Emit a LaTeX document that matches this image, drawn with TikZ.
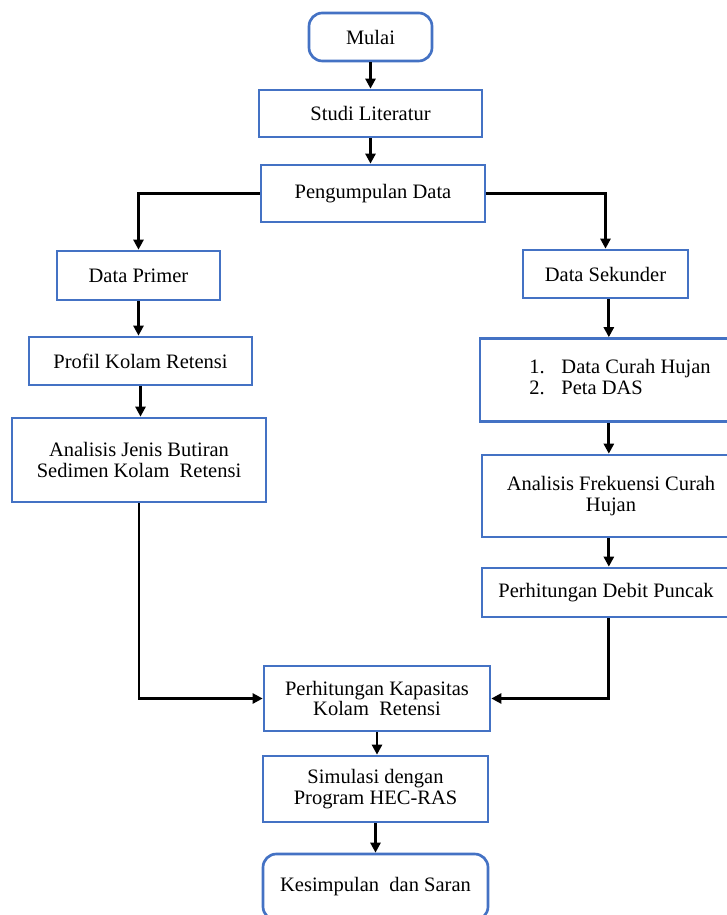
\documentclass[tikz,border=0pt]{standalone}
\usepackage{fontspec}
\setmainfont{Liberation Serif}
\usepackage{tikz}
\usetikzlibrary{arrows.meta}

\definecolor{boxblue}{RGB}{68,114,196}
\tikzset{
    box/.style={draw=boxblue, line width=1.6pt, fill=white, align=center, inner sep=2pt,
        font=\fontsize{12.3pt}{12.3pt}\selectfont},
    rbox/.style={box, rounded corners=8pt},
    flow/.style={line width=1.7pt, -{Triangle[length=6pt,width=6pt]}},
    link/.style={line width=1.7pt}
}

\begin{document}
\begin{tikzpicture}[x=0.6pt, y=-0.6pt]
    \useasboundingbox (0, 0) rectangle (727, 915);
    \begin{scope}
    \clip (0, 0) rectangle (727, 915);

    \node [rbox, minimum width=73.8pt, minimum height=28.8pt] (mulai) at (370.5, 37) {Mulai};
    \node [box, minimum width=133.8pt, minimum height=28.2pt] (studi) at (370.5, 113.5) {Studi Literatur};
    \node [box, minimum width=134.4pt, minimum height=34.2pt] (kumpul) at (373, 193.5) {Pengumpulan Data};

    \node [box, minimum width=97.8pt, minimum height=29.4pt] (primer) at (138.5, 275.5) {Data Primer};
    \node [box, minimum width=133.8pt, minimum height=28.8pt] (profil) at (140.5, 361) {Profil Kolam Retensi};
    \node [box, minimum width=152.4pt, minimum height=50.4pt] (butiran) at (139, 460)
        {Analisis Jenis Butiran\\Sedimen Kolam \ Retensi};

    \node [box, minimum width=99pt, minimum height=28.8pt] (sekunder) at (605.5, 274) {Data Sekunder};
    \node [box, minimum width=156pt, minimum height=49.8pt] (curah) at (610, 380)
        {\hspace*{12pt}\begin{tabular}{@{}l@{\hspace{10pt}}l@{}}1. & Data Curah Hujan\\ 2. & Peta DAS\end{tabular}};
    \node [box, minimum width=154.8pt, minimum height=49.2pt] (frek) at (611, 496)
        {Analisis Frekuensi Curah\\Hujan};
    \node [box, minimum width=154.8pt, minimum height=29.4pt] (debit) at (611, 592.5)
        {\hspace*{-6pt}Perhitungan Debit Puncak};

    \node [box, minimum width=135.6pt, minimum height=39pt] (kapasitas) at (377, 698.5)
        {Perhitungan Kapasitas\\Kolam \ Retensi};
    \node [box, minimum width=135pt, minimum height=39.6pt] (simulasi) at (375.5, 789)
        {Simulasi dengan\\Program HEC-RAS};
    \node [rbox, minimum width=135pt, minimum height=39.6pt] (selesai) at (375.5, 887)
        {Kesimpulan \ dan Saran};

    \draw [flow] (mulai) -- (studi);
    \draw [flow] (studi) -- (studi |- kumpul.north);
    \draw [flow] (kumpul.west) -| (primer.north);
    \draw [flow] (kumpul.east) -| (sekunder.north);

    \draw [flow] (primer) -- (primer |- profil.north);
    \draw [flow] (profil) -- (profil |- butiran.north);
    \draw [flow] (butiran.south) |- (kapasitas.west);

    \draw [flow] ([xshift=2pt]sekunder.south) -- ([xshift=2pt]sekunder.south |- curah.north);
    \draw [flow] ([xshift=2pt]sekunder.south |- curah.south) -- ([xshift=2pt]sekunder.south |- frek.north);
    \draw [flow] ([xshift=2pt]sekunder.south |- frek.south) -- ([xshift=2pt]sekunder.south |- debit.north);
    \draw [flow] ([xshift=2pt]sekunder.south |- debit.south) |- (kapasitas.east);

    \draw [flow] (kapasitas) -- (kapasitas |- simulasi.north);
    \draw [flow] (simulasi) -- (simulasi |- selesai.north);
    \end{scope}
\end{tikzpicture}
\end{document}
